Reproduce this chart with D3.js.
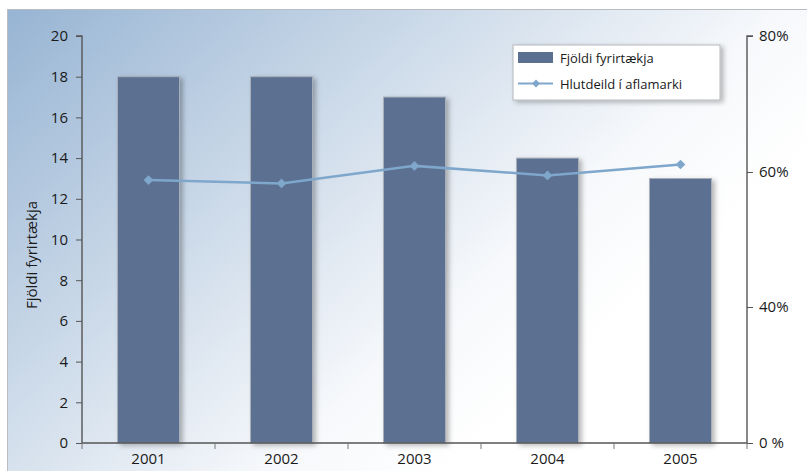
<!DOCTYPE html>
<html>
<head>
<meta charset="utf-8">
<script src="https://cdn.jsdelivr.net/npm/d3@7"></script>
<style>
  html, body { margin: 0; padding: 0; background: #fff; }
  svg { display: block; font-family: "Open Sans", "Noto Sans", sans-serif; }
</style>
</head>
<body>
<svg id="chart" width="807" height="471"></svg>
<script>
// Number of companies per year and their share of the catch quota
const years = ["2001", "2002", "2003", "2004", "2005"];
const companies = [18, 18, 17, 14, 13];
const quotaShare = [0.588, 0.583, 0.609, 0.595, 0.611];
const leftTicks = [0, 2, 4, 6, 8, 10, 12, 14, 16, 18, 20];
const rightTicks = [0, 0.4, 0.6, 0.8];
const rightTickLabels = ["0 %", "40%", "60%", "80%"];
const seriesNames = ["Fjöldi fyrirtækja", "Hlutdeild í aflamarki"];
const yTitle = "Fjöldi fyrirtækja";

const svg = d3.select("#chart");
const W = 807, H = 471;
const m = { left: 82, right: 747, top: 36, bottom: 443 };

const defs = svg.append("defs");
const bg = defs.append("linearGradient").attr("id", "bg")
  .attr("x1", 0).attr("y1", 0).attr("x2", 0.85).attr("y2", 0.55);
bg.append("stop").attr("offset", 0).attr("stop-color", "#97b4d3");
bg.append("stop").attr("offset", 0.45).attr("stop-color", "#ccdae9");
bg.append("stop").attr("offset", 0.8).attr("stop-color", "#f6f8fb");
bg.append("stop").attr("offset", 1).attr("stop-color", "#ffffff");

const shadow = defs.append("filter").attr("id", "shadow")
  .attr("x", "-20%").attr("y", "-20%").attr("width", "150%").attr("height", "140%");
shadow.append("feDropShadow").attr("dx", 3).attr("dy", 2).attr("stdDeviation", 2.5)
  .attr("flood-color", "#000").attr("flood-opacity", 0.28);

// Panel background with frame lines on top and left
svg.append("rect").attr("x", 7).attr("y", 9).attr("width", W - 7).attr("height", H - 9)
  .attr("fill", "url(#bg)");
svg.append("line").attr("x1", 7).attr("x2", W).attr("y1", 9.5).attr("y2", 9.5)
  .attr("stroke", "#b9bcc0").attr("stroke-width", 1);
svg.append("line").attr("x1", 7.5).attr("x2", 7.5).attr("y1", 9).attr("y2", H)
  .attr("stroke", "#b9bcc0").attr("stroke-width", 1);

const xOuter = d3.scaleBand().domain(years).range([m.left, m.right]);
const y = d3.scaleLinear().domain([0, 20]).range([m.bottom, m.top]);
const y2 = d3.scaleLinear().domain(rightTicks).range([m.bottom, 307, 172, m.top]);

// Bars
svg.append("g").selectAll("rect").data(years).join("rect")
  .attr("x", d => xOuter(d) + xOuter.bandwidth() / 2 - 31)
  .attr("width", 62)
  .attr("y", (d, i) => y(companies[i]))
  .attr("height", (d, i) => y(0) - y(companies[i]))
  .attr("fill", "#5b6f91")
  .attr("stroke", "#a9afb8").attr("stroke-width", 1)
  .attr("filter", "url(#shadow)");

// Axes
const axisColor = "#555";
const leftAxis = svg.append("g").attr("transform", `translate(${m.left},0)`)
  .call(d3.axisLeft(y).tickValues(leftTicks).tickSize(6).tickPadding(8));
const rightAxis = svg.append("g").attr("transform", `translate(${m.right},0)`)
  .call(d3.axisRight(y2).tickValues(rightTicks).tickSize(6).tickPadding(6)
    .tickFormat((d, i) => rightTickLabels[i]));
const bottomAxis = svg.append("g").attr("transform", `translate(0,${m.bottom})`)
  .call(d3.axisBottom(xOuter).tickSize(0).tickPadding(10));
// category boundary ticks
svg.append("g").selectAll("line").data(d3.range(years.length + 1)).join("line")
  .attr("x1", i => m.left + i * xOuter.step()).attr("x2", i => m.left + i * xOuter.step())
  .attr("y1", m.bottom).attr("y2", m.bottom + 6)
  .attr("stroke", "#777").attr("stroke-width", 1);

[leftAxis, rightAxis, bottomAxis].forEach(g => {
  g.select(".domain").attr("stroke", axisColor).attr("stroke-width", 1.4);
  g.selectAll(".tick line").attr("stroke", axisColor);
  g.selectAll("text").attr("font-size", 15).attr("fill", "#1a1a1a")
    .attr("font-family", "Open Sans, Noto Sans, sans-serif");
});
leftAxis.select(".domain").attr("d", `M-6,${m.top}H0V${m.bottom}`);
rightAxis.select(".domain").attr("d", `M6,${m.top}H0V${m.bottom}`);
bottomAxis.select(".domain").attr("d", `M${m.left},0H${m.right}`);

// Y title
svg.append("text")
  .attr("transform", `translate(37,255) rotate(-90)`)
  .attr("text-anchor", "middle").attr("font-size", 15).attr("fill", "#1a1a1a")
  .text(yTitle);

// Quota share line
const lineColor = "#7ea7cb";
const pts = years.map((d, i) => [xOuter(d) + xOuter.bandwidth() / 2, y2(quotaShare[i])]);
svg.append("path").attr("d", d3.line()(pts))
  .attr("fill", "none").attr("stroke", lineColor).attr("stroke-width", 2.5);
const diamond = d3.symbol().type(d3.symbolDiamond2).size(60);
svg.append("g").selectAll("path").data(pts).join("path")
  .attr("transform", d => `translate(${d[0]},${d[1]})`)
  .attr("d", diamond).attr("fill", lineColor);

// Legend
const lg = svg.append("g");
lg.append("rect").attr("x", 513).attr("y", 45).attr("width", 207).attr("height", 55)
  .attr("fill", "#fff").attr("stroke", "#b5b8bc").attr("stroke-width", 1)
  .attr("filter", "url(#shadow)");
lg.append("rect").attr("x", 518).attr("y", 52).attr("width", 35).attr("height", 11)
  .attr("fill", "#5b6f91");
lg.append("line").attr("x1", 518).attr("x2", 553).attr("y1", 83.5).attr("y2", 83.5)
  .attr("stroke", lineColor).attr("stroke-width", 2);
lg.append("path").attr("transform", "translate(536,83.5)")
  .attr("d", d3.symbol().type(d3.symbolDiamond2).size(40)).attr("fill", lineColor);
lg.selectAll("text.lbl").data(seriesNames).join("text")
  .attr("x", 560).attr("y", (d, i) => 63 + i * 26)
  .attr("font-size", 13).attr("fill", "#1a1a1a").text(d => d);
</script>
</body>
</html>
